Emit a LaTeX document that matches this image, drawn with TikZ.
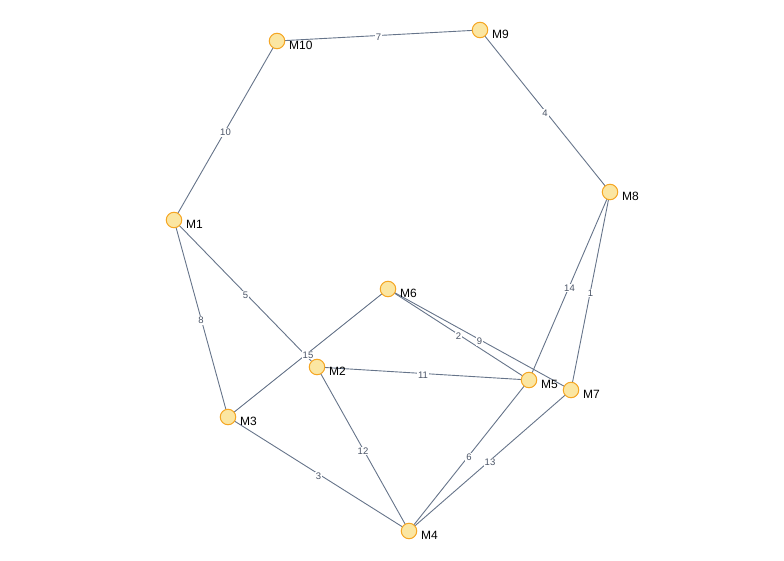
\documentclass[tikz,border=0pt]{standalone}
\usepackage{fontspec}
\setmainfont{Liberation Sans}
\definecolor{edgecol}{HTML}{66748A}
\definecolor{elabcol}{HTML}{4A5466}
\definecolor{nodefill}{HTML}{FBE6A2}
\definecolor{nodedraw}{HTML}{F5A623}
\begin{document}
\begin{tikzpicture}[x=1pt,y=-1pt,
  vtx/.style={circle,draw=nodedraw,fill=nodefill,line width=1pt,minimum size=15.5pt,inner sep=0pt},
  vlab/.style={anchor=west,font=\fontsize{12}{14}\selectfont,inner sep=0pt,text=black},
  edge/.style={draw=edgecol,line width=0.9pt},
  elab/.style={font=\fontsize{9.5}{11}\selectfont,text=elabcol,fill=white,inner sep=1pt,midway,yshift=-2pt}]
\path[use as bounding box] (0,0) rectangle (784,561);
\foreach \n/\x/\y in {M1/174/220, M2/317/367, M3/228/417, M4/409/531, M5/529/380,
  M6/388/289, M7/571/390, M8/610/192, M9/480/30, M10/277/41}{
  \coordinate (\n) at (\x,\y);
}
\foreach \a/\b/\w in {M10/M9/7, M9/M8/4, M10/M1/10, M1/M2/5, M1/M3/8, M8/M5/14, M8/M7/1,
  M6/M5/2, M6/M7/9, M6/M3/15, M2/M5/11, M2/M4/12, M3/M4/3, M5/M4/6, M7/M4/13}{
  \draw[edge] (\a) -- node[elab]{\w} (\b);
}
\foreach \n in {M1,M2,M3,M4,M5,M6,M7,M8,M9,M10}{
  \node[vtx] (v\n) at (\n) {};
  \node[vlab] (l\n) at ([xshift=12pt,yshift=-4pt]\n) {\n};
}
\end{tikzpicture}
\end{document}
